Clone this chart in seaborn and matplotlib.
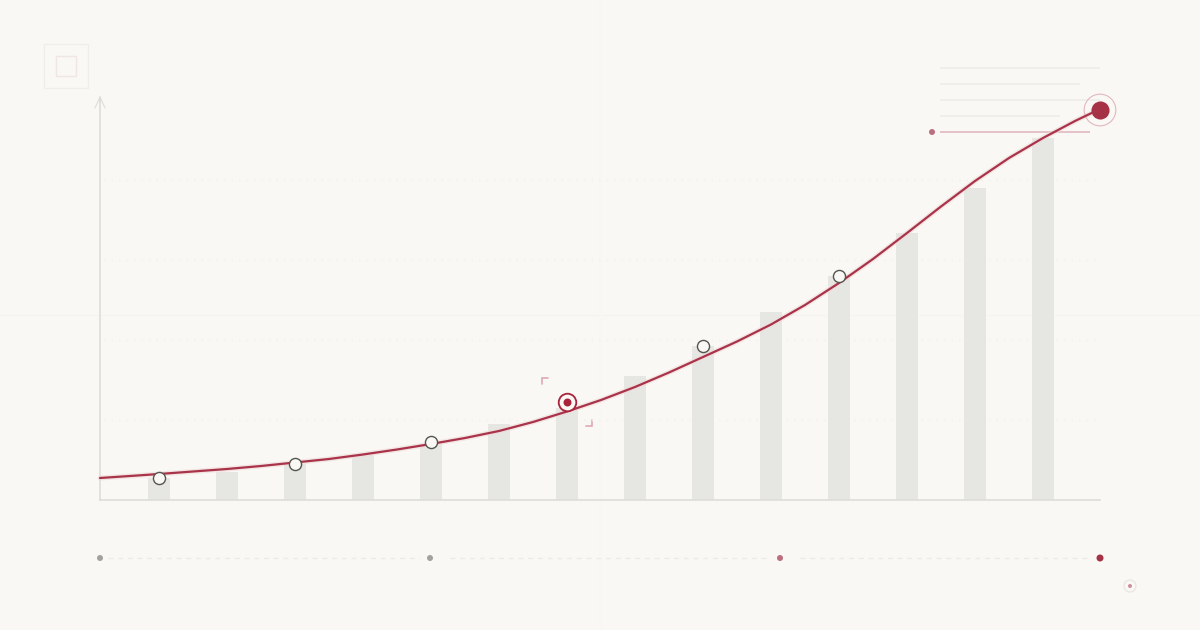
import matplotlib
matplotlib.use("Agg")
import matplotlib.pyplot as plt
from matplotlib.patches import Circle, Rectangle
import pandas as pd
import seaborn as sns

# Values are measured up from the baseline, x runs along the axis
bar_x = [59, 127, 195, 263, 331, 399, 467, 535, 603, 671, 739, 807, 875, 943]
bar_y = [22, 28, 36, 45, 56, 76, 92, 124, 154, 188, 224, 267, 312, 362]

curve_x = [0, 30, 59, 93, 127, 161, 195, 229, 263, 297, 331, 365, 399, 433, 467, 501, 535,
           569, 603, 637, 671, 705, 739, 773, 807, 841, 875, 909, 943, 975, 1000]
curve_y = [22, 24, 26, 28.5, 31, 34, 37.5, 41, 45.5, 50.5, 56, 62, 69, 78, 88.5, 100, 113,
           127.5, 143, 158.5, 175.5, 195, 217, 241, 267, 293.5, 319, 342, 362, 379, 391]

open_x = [59, 195, 331, 603, 739]
open_y = [22, 36, 58, 154, 224]
focus_x = [467]
focus_y = [98]
end_x = [1000]
end_y = [390]

y_ticks = [80, 160, 240, 320]
x_ticks = [59, 195, 331, 467, 603, 739]

# Page furniture, in pixels of the 1200x630 canvas
note_lines = [(68, 1100), (84, 1080), (100, 1100), (116, 1060)]
timeline_dots = [(100, "#A3A29D"), (430, "#A3A29D"), (780, "#BC6F7F"), (1100, "#A63246")]
timeline_runs = [(108, 420), (450, 770), (800, 1092)]

BG = "#F9F8F4"
AXIS = "#DEDDD8"
BAR = "#E6E7E3"
RED = "#A9344A"


def draw_chart(ax):
    sns.barplot(x=bar_x, y=bar_y, native_scale=True, width=22 / 68, color=BAR,
                saturation=1, linewidth=0, ax=ax, zorder=2)
    curve = pd.DataFrame({"x": curve_x, "y": curve_y})
    sns.lineplot(data=curve, x="x", y="y", color="#EFD9D9", linewidth=3.6, ax=ax, zorder=3,
                 alpha=0.6, errorbar=None, clip_on=False)
    sns.lineplot(data=curve, x="x", y="y", color=RED, linewidth=1.6, ax=ax, zorder=4,
                 errorbar=None, clip_on=False)
    sns.scatterplot(x=open_x, y=open_y, s=76, color=BG, edgecolor="#55554F", linewidth=1,
                    ax=ax, zorder=5, clip_on=False)
    sns.scatterplot(x=focus_x, y=focus_y, s=160, color=BG, edgecolor="#A8233B", linewidth=1.3,
                    ax=ax, zorder=5, clip_on=False)
    sns.scatterplot(x=focus_x, y=focus_y, s=33, color="#A8233B", linewidth=0,
                    ax=ax, zorder=6, clip_on=False)
    sns.scatterplot(x=end_x, y=end_y, s=520, color="none", edgecolor="#E2B8BF", linewidth=0.8,
                    ax=ax, zorder=3, clip_on=False)
    sns.scatterplot(x=end_x, y=end_y, s=170, color="#A63246", linewidth=0,
                    ax=ax, zorder=3, clip_on=False)

    ax.set_xlim(0, 1000)
    ax.set_ylim(0, 400)
    ax.set_xticks(x_ticks)
    ax.set_yticks(y_ticks)
    ax.set_xticklabels([])
    ax.set_yticklabels([])
    ax.set_xlabel("")
    ax.set_ylabel("")
    ax.tick_params(axis="x", length=7.2, width=1, color="#E6E5E1")
    ax.tick_params(axis="y", length=5.8, width=1, color="#ECEBE7")
    ax.grid(axis="y", color="#EFEEE9", linestyle=(3, (1, 5)), linewidth=0.9, zorder=1)
    ax.grid(axis="x", visible=False)
    ax.set_axisbelow(True)
    sns.despine(ax=ax)
    for side in ["left", "bottom"]:
        ax.spines[side].set_color(AXIS)
        ax.spines[side].set_linewidth(1.2)
    ax.patch.set_alpha(0)


def draw_furniture(page):
    page.set_xlim(0, 1200)
    page.set_ylim(630, 0)
    page.axis("off")

    # faint cross hair behind the chart
    page.plot([0, 1200], [315, 315], color="#F5F4F0", lw=0.8)
    page.plot([600, 600], [0, 630], color="#F8F7F3", lw=0.8)

    # icon top left
    page.add_patch(Rectangle((44, 44), 44, 44, fill=False, ec="#F0EEEA", lw=1))
    page.add_patch(Rectangle((56, 56), 20, 20, fill=False, ec="#F0E6E4", lw=1))

    # axis arrow
    page.plot([100, 100], [97, 101], color=AXIS, lw=1.2)
    page.plot([95, 100, 105], [108, 97, 108], color=AXIS, lw=0.8)

    # note block top right
    for y, x_end in note_lines:
        page.plot([940, x_end], [y, y], color="#EFEEEA", lw=1.4, solid_capstyle="butt")
    page.plot([940, 1090], [132, 132], color="#E3C2C7", lw=1.4, solid_capstyle="butt")
    page.add_patch(Circle((932, 132), 3, fc="#BC6F7F", ec="none"))

    # corner brackets round the focus point
    page.plot([542, 542, 548], [384, 378, 378], color="#DDA9B2", lw=1.2, solid_joinstyle="miter")
    page.plot([586, 592, 592], [426, 426, 420], color="#DDA9B2", lw=1.2, solid_joinstyle="miter")

    # timeline
    for x0, x1 in timeline_runs:
        page.plot([x0, x1], [558, 558], color="#ECEBE7", lw=1, linestyle=(0, (3.5, 3.5)))
    for x, c in timeline_dots:
        r = 3.5 if x == 1100 else 3
        page.add_patch(Circle((x, 558), r, fc=c, ec="none"))

    # small target bottom right
    page.add_patch(Circle((1130, 586), 6, fc="none", ec="#E8E6E2", lw=0.9))
    page.add_patch(Circle((1130, 586), 2, fc="#CC8F9B", ec="none"))


def main():
    sns.set_theme(style="white")
    fig = plt.figure(figsize=(12, 6.3), dpi=100, facecolor=BG)
    page = fig.add_axes([0, 0, 1, 1], zorder=0)
    draw_furniture(page)
    ax = fig.add_axes([100 / 1200, 130 / 630, 1000 / 1200, 400 / 630], zorder=1)
    draw_chart(ax)
    fig.savefig("out.png", dpi=100, facecolor=BG)


if __name__ == "__main__":
    main()
